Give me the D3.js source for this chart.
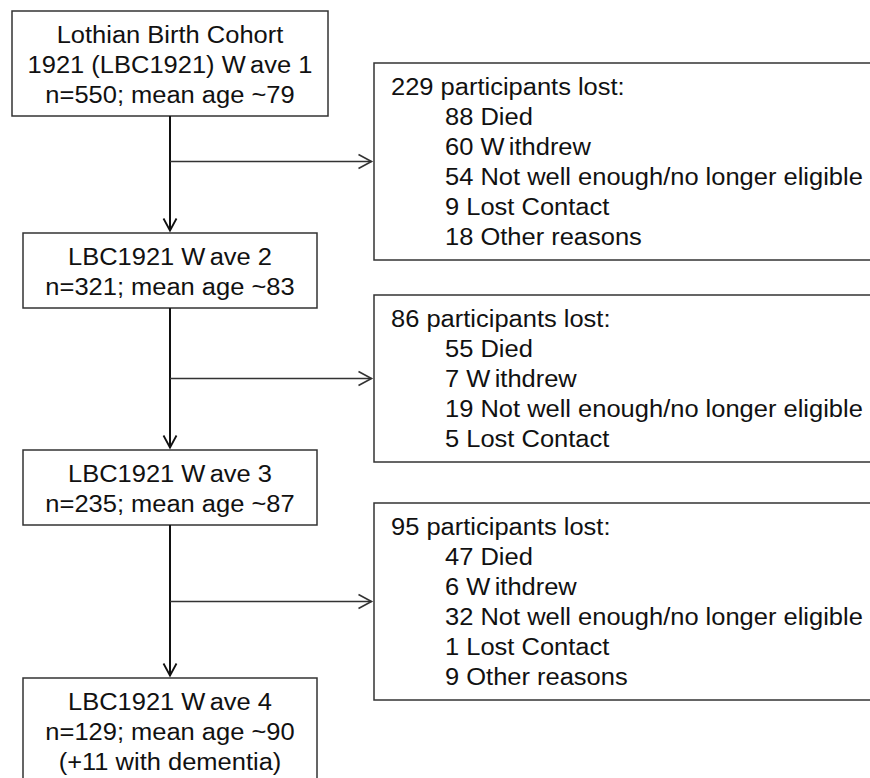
<!DOCTYPE html>
<html>
<head>
<meta charset="utf-8">
<script src="https://cdn.jsdelivr.net/npm/d3@7"></script>
<style>
  body { margin: 0; background: #fff; }
  text { font-family: "Liberation Sans", Arial, Helvetica, sans-serif; font-size: 23.5px; fill: #111; }
</style>
</head>
<body>
<script>
// cohort waves (left column)
var waveNames = ["Wave 1", "Wave 2", "Wave 3", "Wave 4"];
var waveN = [550, 321, 235, 129];
var waveAge = [79, 83, 87, 90];
var waveNote = ["", "", "", "(+11 with dementia)"];

// losses between waves (right column)
var lostTotal = [229, 86, 95];
var reasonNames = ["Died", "Withdrew", "Not well enough/no longer eligible", "Lost Contact", "Other reasons"];
var lostDied = [88, 55, 47];
var lostWithdrew = [60, 7, 6];
var lostNotWell = [54, 19, 32];
var lostContact = [9, 5, 1];
var lostOther = [18, null, 9];

var width = 870
var height = 778
var lineH = 30
var sx = 1.085   // glyphs in the source are stretched sideways

// layout (positions only)
var leftTop = [11, 233, 450, 678]
var leftX = [[12, 328], [23, 317], [23, 317], [23, 317]]
var rightTop = [63, 295, 503]
var rightX = 374
var colX = 170

var svg = d3.select("body")
			.append("svg")
			.attr("width", width)
			.attr("height", height)

// build the text for each box
var leftBoxes = waveNames.map(function(w, i) {
	var lines;
	if (i == 0) lines = ["Lothian Birth Cohort", "1921 (LBC1921) " + w, "n=" + waveN[i] + "; mean age ~" + waveAge[i]];
	else lines = ["LBC1921 " + w, "n=" + waveN[i] + "; mean age ~" + waveAge[i]];
	if (waveNote[i]) lines.push(waveNote[i]);
	var h = lines.length * lineH + 15;
	return { lines: lines, x0: leftX[i][0], x1: leftX[i][1], y: leftTop[i], h: h };
});

var rightBoxes = lostTotal.map(function(t, i) {
	var counts = [lostDied[i], lostWithdrew[i], lostNotWell[i], lostContact[i], lostOther[i]];
	var items = [];
	counts.forEach(function(c, j) {
		if (c != null) items.push(c + " " + reasonNames[j]);
	});
	var h = (items.length + 1) * lineH + 17;
	return { head: t + " participants lost:", items: items, y: rightTop[i], h: h };
});

// split "W" from the rest so the PDF-like gap shows
function addText(sel, str) {
	var k = str.indexOf("W");
	if (k < 0) { sel.text(str); return; }
	sel.append("tspan").text(str.slice(0, k + 1));
	sel.append("tspan").attr("dx", 4).text(str.slice(k + 1));
}

// left boxes
var left = svg.selectAll("g.left")
			.data(leftBoxes)
			.enter()
			.append("g")
			.attr("class", "left")

left.append("rect")
	.attr("x", function(d) { return d.x0 })
	.attr("y", function(d) { return d.y })
	.attr("width", function(d) { return d.x1 - d.x0 })
	.attr("height", function(d) { return d.h })
	.style("fill", "none")
	.style("stroke", "#333")
	.style("stroke-width", 1.5)

left.each(function(d) {
	var g = d3.select(this);
	d.lines.forEach(function(s, j) {
		var t = g.append("text")
				.attr("text-anchor", "middle")
				.attr("transform", "translate(" + ((d.x0 + d.x1) / 2) + "," + (d.y + 31.5 + j * lineH) + ") scale(" + sx + ",1)");
		addText(t, s);
	});
});

// right boxes
var right = svg.selectAll("g.right")
			.data(rightBoxes)
			.enter()
			.append("g")
			.attr("class", "right")

right.append("rect")
	.attr("x", rightX)
	.attr("y", function(d) { return d.y })
	.attr("width", 540)
	.attr("height", function(d) { return d.h })
	.style("fill", "none")
	.style("stroke", "#333")
	.style("stroke-width", 1.5)

right.each(function(d) {
	var g = d3.select(this);
	g.append("text")
		.attr("transform", "translate(" + (rightX + 17) + "," + (d.y + 32) + ") scale(" + sx + ",1)")
		.text(d.head);
	d.items.forEach(function(s, j) {
		var t = g.append("text")
				.attr("transform", "translate(" + (rightX + 71) + "," + (d.y + 32 + (j + 1) * lineH) + ") scale(" + sx + ",1)");
		addText(t, s);
	});
});

// connectors
var links = d3.range(leftBoxes.length - 1).map(function(i) {
	return { y0: leftBoxes[i].y + leftBoxes[i].h, y1: leftBoxes[i + 1].y - 2.5, yb: rightBoxes[i].y + rightBoxes[i].h / 2 };
});

var conn = svg.selectAll("g.link")
			.data(links)
			.enter()
			.append("g")
			.attr("class", "link")
			.style("fill", "none")

conn.append("line")
	.attr("x1", colX).attr("x2", colX)
	.attr("y1", function(d) { return d.y0 })
	.attr("y2", function(d) { return d.y1 })
	.style("stroke", "#111")
	.style("stroke-width", 2)

conn.append("path")
	.attr("d", function(d) { return "M" + (colX - 6.5) + "," + (d.y1 - 12) + "L" + colX + "," + d.y1 + "L" + (colX + 6.5) + "," + (d.y1 - 12) })
	.style("stroke", "#111")
	.style("stroke-width", 1.8)

conn.append("line")
	.attr("x1", colX).attr("x2", rightX - 2.5)
	.attr("y1", function(d) { return d.yb })
	.attr("y2", function(d) { return d.yb })
	.style("stroke", "#333")
	.style("stroke-width", 1.6)

conn.append("path")
	.attr("d", function(d) { return "M" + (rightX - 15.5) + "," + (d.yb - 7) + "L" + (rightX - 2.5) + "," + d.yb + "L" + (rightX - 15.5) + "," + (d.yb + 7) })
	.style("stroke", "#333")
	.style("stroke-width", 1.6)
</script>
</body>
</html>
